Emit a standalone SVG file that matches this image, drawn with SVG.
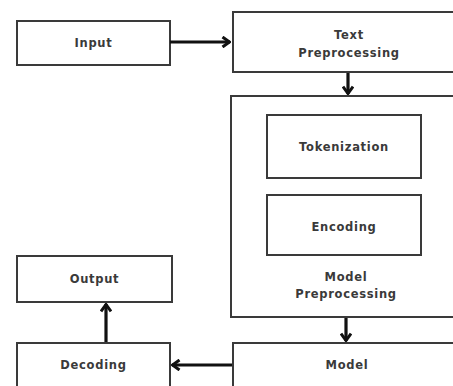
<svg xmlns="http://www.w3.org/2000/svg" width="453" height="386" viewBox="0 0 453 386">
<defs>
<style>
.box{fill:#fff;stroke:#3a3a3a;stroke-width:2}
.lbl{font-family:"DejaVu Sans",sans-serif;font-weight:bold;font-size:11.5px;letter-spacing:0.7px;fill:#3a3a3a;text-anchor:middle}
.conn{stroke:#111;stroke-width:3.2;fill:none}
</style>
<marker id="ah" viewBox="0 0 10 12" refX="9" refY="6" markerWidth="10" markerHeight="12" markerUnits="userSpaceOnUse" orient="auto">
<path d="M1.5,1 L8.5,6 L1.5,11" fill="none" stroke="#111" stroke-width="3"/>
</marker>
</defs>
<rect width="453" height="386" fill="#fff"/>
<g id="input"><rect class="box" x="17" y="21" width="153" height="44"/><text class="lbl" x="93.5" y="47">Input</text></g>
<g id="text-preprocessing"><rect class="box" x="233" y="12" width="232" height="60"/><text class="lbl" x="349" y="39">Text</text><text class="lbl" x="349" y="57">Preprocessing</text></g>
<g id="model-preprocessing"><rect class="box" x="231" y="96" width="234" height="221"/><text class="lbl" x="346" y="281">Model</text><text class="lbl" x="346" y="298">Preprocessing</text></g>
<g id="tokenization"><rect class="box" x="267" y="115" width="154" height="63"/><text class="lbl" x="344" y="151">Tokenization</text></g>
<g id="encoding"><rect class="box" x="267" y="195" width="154" height="60"/><text class="lbl" x="344" y="231">Encoding</text></g>
<g id="model"><rect class="box" x="233" y="343" width="232" height="60"/><text class="lbl" x="347" y="369">Model</text></g>
<g id="decoding"><rect class="box" x="17" y="343" width="153" height="60"/><text class="lbl" x="93.5" y="369">Decoding</text></g>
<g id="output"><rect class="box" x="17" y="256" width="155" height="46"/><text class="lbl" x="94.5" y="283">Output</text></g>
<g id="connectors">
<path class="conn" d="M170,42 H230" marker-end="url(#ah)"/>
<path class="conn" d="M348,73 V94" marker-end="url(#ah)"/>
<path class="conn" d="M346,318 V341" marker-end="url(#ah)"/>
<path class="conn" d="M232,365 H172" marker-end="url(#ah)"/>
<path class="conn" d="M106,342 V304" marker-end="url(#ah)"/>
</g>
</svg>
